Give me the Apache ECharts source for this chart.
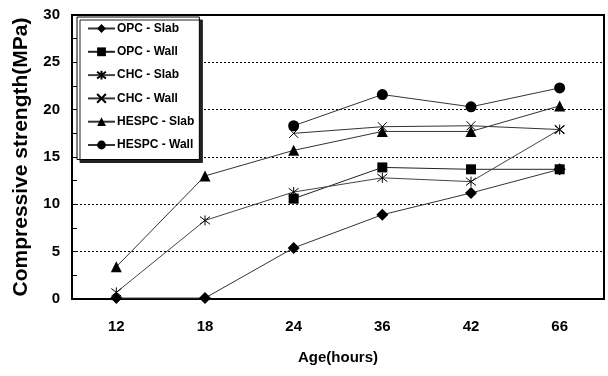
<!DOCTYPE html>
<html><head><meta charset="utf-8">
<script src="https://cdn.jsdelivr.net/npm/echarts@6/dist/echarts.min.js"></script>
<style>html,body{margin:0;padding:0;background:#fff}#c{width:608px;height:376px}</style>
</head><body><div id="c"></div>
<script>
const categories = ['12','18','24','36','42','66'];
const opcSlab   = [0.1, 0.1, 5.4, 8.9, 11.2, 13.7];
const opcWall   = [null, null, 10.6, 13.9, 13.7, 13.7];
const chcSlab   = [0.7, 8.3, 11.3, 12.8, 12.4, 17.9];
const chcWall   = [null, null, 17.5, 18.2, 18.3, 17.9];
const hespcSlab = [3.4, 13.0, 15.7, 17.7, 17.7, 20.4];
const hespcWall = [null, null, 18.3, 21.6, 20.3, 22.3];
const seriesNames = ['OPC - Slab','OPC - Wall','CHC - Slab','CHC - Wall','HESPC - Slab','HESPC - Wall'];

const FONT = '"Liberation Sans", Arial, sans-serif';
const XSYM = 'path://M0 0L10 10M10 0L0 10';
const ASYM = 'path://M0 0L10 10M10 0L0 10M5 -1.5L5 11.5';

function mk(name, data, symbol, size, stroke, lineColor) {
  return {
    name, type: 'line', data, symbol, symbolSize: size,
    showSymbol: true,
    lineStyle: { color: lineColor, width: 1 },
    itemStyle: stroke
      ? { color: 'rgba(0,0,0,0)', borderColor: '#000', borderWidth: 1 }
      : { color: '#000', borderWidth: 0 },
    emphasis: { disabled: true },
    animation: false
  };
}

const chart = echarts.init(document.getElementById('c'), null, { renderer: 'canvas' });
chart.setOption({
  animation: false,
  backgroundColor: '#fff',
  grid: { left: 72, right: 4, top: 15, bottom: 77, show: true, borderColor: '#000', borderWidth: 2, containLabel: false },
  legend: {
    orient: 'vertical', left: 77, top: 17,
    itemWidth: 27, itemHeight: 11, itemGap: 10.3,
    padding: [5, 5, 8, 10],
    backgroundColor: '#fff', borderColor: '#000', borderWidth: 1,
    shadowColor: '#222', shadowOffsetX: 3, shadowOffsetY: 3, shadowBlur: 0,
    textStyle: { fontFamily: FONT, fontWeight: 'bold', fontSize: 12, lineHeight: 13, color: '#000', padding: [0,0,0,-3] },
    data: seriesNames
  },
  xAxis: {
    type: 'category', data: categories, boundaryGap: true,
    name: 'Age(hours)', nameLocation: 'middle', nameGap: 51,
    nameTextStyle: { fontFamily: FONT, fontWeight: 'bold', fontSize: 15, color: '#000' },
    axisLine: { lineStyle: { color: '#000', width: 2 } },
    axisTick: { inside: true, length: 5, lineStyle: { color: '#000' } },
    axisLabel: { margin: 20, fontFamily: FONT, fontWeight: 'bold', fontSize: 15, color: '#000' },
    splitLine: { show: false }
  },
  yAxis: {
    type: 'value', min: 0, max: 30, interval: 5,
    name: 'Compressive strength(MPa)', nameLocation: 'middle', nameGap: 40,
    nameTextStyle: { fontFamily: FONT, fontWeight: 'bold', fontSize: 21, color: '#000' },
    axisLine: { show: true, lineStyle: { color: '#000', width: 2 } },
    axisTick: { show: true, inside: true, length: 5, lineStyle: { color: '#000' } },
    minorTick: { show: true, splitNumber: 2, length: 5, lineStyle: { color: '#000' } },
    axisLabel: { margin: 12, fontFamily: FONT, fontWeight: 'bold', fontSize: 15, color: '#000' },
    splitLine: { show: true, lineStyle: { color: '#000', width: 1, type: [2, 2] } }
  },
  series: [
    mk(seriesNames[0], opcSlab, 'diamond', 12, false, '#333'),
    mk(seriesNames[1], opcWall, 'rect', 10, false, '#222'),
    mk(seriesNames[2], chcSlab, ASYM, 10, true, '#444'),
    mk(seriesNames[3], chcWall, XSYM, 9, true, '#333'),
    mk(seriesNames[4], hespcSlab, 'triangle', 11, false, '#333'),
    mk(seriesNames[5], hespcWall, 'circle', 11, false, '#333')
  ]
});
</script></body></html>
